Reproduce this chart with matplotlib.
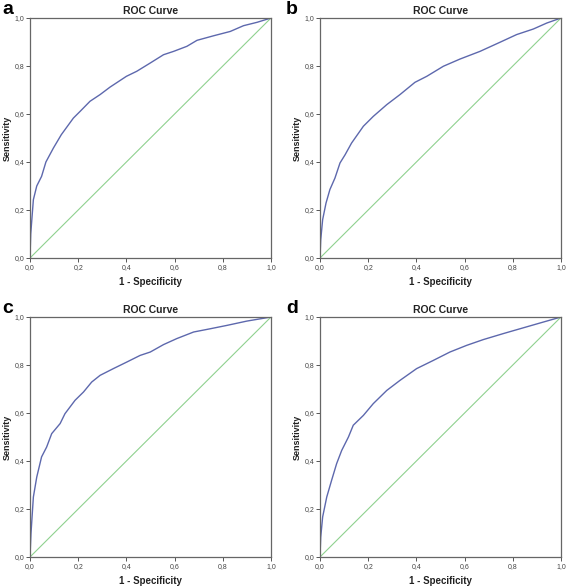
import matplotlib
matplotlib.use('Agg')
import matplotlib.pyplot as plt

plt.rcParams['font.family'] = ['Liberation Sans', 'DejaVu Sans']

# ROC points (1 - specificity, sensitivity)
a_fpr = [0, 0.003, 0.014, 0.028, 0.048, 0.066, 0.097, 0.13, 0.18, 0.208, 0.249, 0.291, 0.332,
         0.40, 0.443, 0.499, 0.554, 0.596, 0.651, 0.693, 0.762, 0.831, 0.886, 0.942, 1]
a_tpr = [0, 0.10, 0.243, 0.30, 0.34, 0.40, 0.458, 0.514, 0.583, 0.611, 0.653, 0.681, 0.712,
         0.757, 0.778, 0.8125, 0.847, 0.861, 0.882, 0.907, 0.926, 0.944, 0.968, 0.982, 1]

b_fpr = [0, 0.003, 0.011, 0.025, 0.041, 0.062, 0.083, 0.104, 0.131, 0.18, 0.221, 0.277, 0.332,
         0.394, 0.443, 0.512, 0.581, 0.664, 0.747, 0.816, 0.885, 0.941, 1]
b_tpr = [0, 0.076, 0.16, 0.229, 0.285, 0.333, 0.396, 0.43, 0.479, 0.549, 0.590, 0.639, 0.681,
         0.732, 0.757, 0.799, 0.829, 0.861, 0.899, 0.931, 0.954, 0.979, 1]

c_fpr = [0, 0.004, 0.014, 0.028, 0.048, 0.069, 0.09, 0.125, 0.145, 0.187, 0.222, 0.256, 0.291,
         0.346, 0.402, 0.457, 0.499, 0.554, 0.609, 0.679, 0.748, 0.817, 0.90, 1]
c_tpr = [0, 0.097, 0.25, 0.333, 0.417, 0.458, 0.514, 0.556, 0.597, 0.653, 0.6875, 0.729, 0.757,
         0.785, 0.8125, 0.840, 0.854, 0.885, 0.910, 0.9375, 0.951, 0.965, 0.983, 1]

d_fpr = [0, 0.003, 0.011, 0.028, 0.048, 0.069, 0.09, 0.118, 0.138, 0.18, 0.221, 0.277, 0.332,
         0.401, 0.47, 0.539, 0.609, 0.678, 0.761, 0.83, 0.913, 1]
d_tpr = [0, 0.083, 0.167, 0.25, 0.319, 0.389, 0.444, 0.5, 0.549, 0.59, 0.639, 0.694, 0.736,
         0.785, 0.819, 0.854, 0.882, 0.906, 0.931, 0.951, 0.975, 1]

panel_letters = ['a', 'b', 'c', 'd']
ticks = [0.0, 0.2, 0.4, 0.6, 0.8, 1.0]
tick_labels = ['0,0', '0,2', '0,4', '0,6', '0,8', '1,0']

curves = [(a_fpr, a_tpr), (b_fpr, b_tpr), (c_fpr, c_tpr), (d_fpr, d_tpr)]

W, H = 567, 588
fig = plt.figure(figsize=(W / 100, H / 100), dpi=100)

# axes boxes in pixels: left, top, right, bottom
boxes = [(30, 18, 271, 258), (320, 18, 561, 258),
         (30, 317, 271, 557), (320, 317, 561, 557)]
letter_x = [2, 286, 2, 286]

for (fpr, tpr), letter, lx, (l, t, r, b) in zip(curves, panel_letters, letter_x, boxes):
    ax = fig.add_axes([l / W, 1 - b / H, (r - l) / W, (b - t) / H])
    ax.plot([0, 1], [0, 1], color='#8fd18f', lw=0.8)
    ax.plot(fpr, tpr, color='#5d68ad', lw=1.0)
    ax.set_xlim(0, 1)
    ax.set_ylim(0, 1)
    ax.set_xticks(ticks)
    ax.set_xticklabels(tick_labels)
    ax.set_yticks(ticks)
    ax.set_yticklabels(tick_labels)
    ax.tick_params(labelsize=5, length=3, width=0.7, color='#555555',
                   labelcolor='#444444', pad=1)
    for s in ax.spines.values():
        s.set_color('#666666')
        s.set_linewidth(0.9)
    ax.set_title('ROC Curve', fontsize=7.5, fontweight='bold', pad=3, color='#222222')
    ax.set_xlabel('1 - Specificity', fontsize=7, fontweight='bold', labelpad=5, color='#222222')
    ax.set_ylabel('Sensitivity', fontsize=6.5, fontweight='bold', labelpad=2, color='#222222')
    fig.text(lx / W, 1 - (t - 4) / H, letter, fontsize=14, fontweight='bold',
             va='baseline', ha='left')

fig.savefig('out.png', dpi=100)
